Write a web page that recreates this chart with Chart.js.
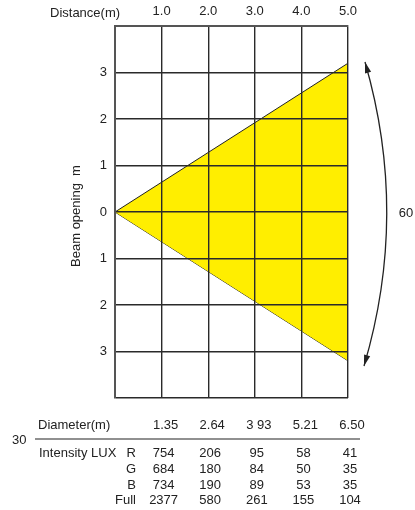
<!DOCTYPE html>
<html>
<head>
<meta charset="utf-8">
<title>Beam opening</title>
<script src="https://cdn.jsdelivr.net/npm/chart.js@4.4.1/dist/chart.umd.min.js"></script>
<style>
  html, body { margin: 0; padding: 0; background: #fff; }
  #wrap { position: relative; width: 415px; height: 510px; }
</style>
</head>
<body>
<div id="wrap"><canvas id="beamChart" width="415" height="510"></canvas></div>
<script>
// distance from the fixture (m) and half beam opening (m) at that distance
const distances = [0, 1, 2, 3, 4, 5];
const halfOpening = [0, 0.64, 1.28, 1.92, 2.56, 3.2];

// table under the chart
const diameters = ['1.35', '2.64', '3 93', '5.21', '6.50'];
const luxLabels = ['R', 'G', 'B', 'Full'];
const luxR = [754, 206, 95, 58, 41];
const luxG = [684, 180, 84, 50, 35];
const luxB = [734, 190, 89, 53, 35];
const luxFull = [2377, 580, 261, 155, 104];

const beamAngle = '60';
const halfAngle = '30';

const FONT = "'Liberation Sans', Arial, sans-serif";
const INK = '#222';

const upper = distances.map((d, i) => ({ x: d, y: halfOpening[i] }));
const lower = distances.map((d, i) => ({ x: d, y: -halfOpening[i] }));

// texts, arc and table drawn around the plot
const extrasPlugin = {
    id: 'extras',
    afterDraw(chart) {
        const ctx = chart.ctx;
        const xs = chart.scales.x;
        ctx.save();
        ctx.fillStyle = INK;
        ctx.font = '13px ' + FONT;
        ctx.textBaseline = 'middle';

        ctx.textAlign = 'left';
        ctx.fillText('Distance(m)', 50, 13);

        // y title
        ctx.save();
        ctx.translate(76, 216);
        ctx.rotate(-Math.PI / 2);
        ctx.textAlign = 'center';
        ctx.fillText('Beam opening  m', 0, 0);
        ctx.restore();

        // beam angle arc with arrows
        const p0 = { x: 365, y: 62 }, p2 = { x: 364, y: 366 }, c = { x: 409, y: 214 };
        ctx.strokeStyle = INK;
        ctx.lineWidth = 1.3;
        ctx.beginPath();
        ctx.moveTo(p0.x, p0.y);
        ctx.quadraticCurveTo(c.x, c.y, p2.x, p2.y);
        ctx.stroke();
        const arrow = (tip, from) => {
            const a = Math.atan2(tip.y - from.y, tip.x - from.x);
            const len = 11, w = 3.2;
            ctx.beginPath();
            ctx.moveTo(tip.x, tip.y);
            ctx.lineTo(tip.x - len * Math.cos(a) + w * Math.sin(a), tip.y - len * Math.sin(a) - w * Math.cos(a));
            ctx.lineTo(tip.x - len * Math.cos(a) - w * Math.sin(a), tip.y - len * Math.sin(a) + w * Math.cos(a));
            ctx.closePath();
            ctx.fillStyle = INK;
            ctx.fill();
        };
        arrow(p0, c);
        arrow(p2, c);
        ctx.textAlign = 'center';
        ctx.fillText(beamAngle, 406, 213);

        // table
        ctx.textAlign = 'left';
        ctx.fillText('Diameter(m)', 38, 425);
        ctx.fillText(halfAngle, 12, 440);
        ctx.fillText('Intensity LUX', 39, 453);
        ctx.beginPath();
        ctx.moveTo(35, 439);
        ctx.lineTo(360, 439);
        ctx.lineWidth = 1.2;
        ctx.stroke();

        const rowsY = [453, 469, 485, 500];
        const rows = [luxR, luxG, luxB, luxFull];
        ctx.textAlign = 'right';
        luxLabels.forEach((lab, i) => ctx.fillText(lab, 136, rowsY[i]));

        ctx.textAlign = 'center';
        diameters.forEach((d, i) => {
            const px = xs.getPixelForValue(distances[i + 1]);
            ctx.fillText(d, px + 4, 425);
        });
        rows.forEach((row, r) => {
            row.forEach((v, i) => {
                const px = xs.getPixelForValue(distances[i + 1]);
                ctx.fillText(String(v), px + 2, rowsY[r]);
            });
        });
        ctx.restore();
    }
};

new Chart(document.getElementById('beamChart'), {
    type: 'line',
    data: {
        datasets: [{
            data: upper,
            borderColor: '#222',
            borderWidth: 1,
            backgroundColor: '#FFEE00',
            fill: '+1',
            pointRadius: 0,
            tension: 0
        }, {
            data: lower,
            borderColor: '#222',
            borderWidth: 1,
            backgroundColor: '#FFEE00',
            fill: false,
            pointRadius: 0,
            tension: 0
        }]
    },
    options: {
        responsive: false,
        animation: false,
        layout: { padding: { left: 0, top: 0, right: 67, bottom: 112 } },
        plugins: {
            legend: { display: false },
            tooltip: { enabled: false }
        },
        scales: {
            x: {
                type: 'linear',
                position: 'top',
                min: 0,
                max: 5,
                afterFit: (s) => { s.height = 26; },
                ticks: {
                    stepSize: 1,
                    padding: 7,
                    color: INK,
                    font: { family: FONT, size: 13 },
                    callback: (v) => (v === 0 ? '' : v.toFixed(1))
                },
                grid: { color: '#2a2a2a', lineWidth: 1.4, drawTicks: false, z: 1 },
                border: { color: '#555', width: 2, z: 2 }
            },
            y: {
                type: 'linear',
                min: -4,
                max: 4,
                afterFit: (s) => { s.width = 115; },
                ticks: {
                    stepSize: 1,
                    padding: 8,
                    color: INK,
                    font: { family: FONT, size: 13 },
                    callback: (v) => (Math.abs(v) === 4 ? '' : String(Math.abs(v)))
                },
                grid: { color: '#2a2a2a', lineWidth: 1.4, drawTicks: false, z: 1 },
                border: { color: '#555', width: 2, z: 2 }
            }
        }
    },
    plugins: [extrasPlugin]
});
</script>
</body>
</html>
